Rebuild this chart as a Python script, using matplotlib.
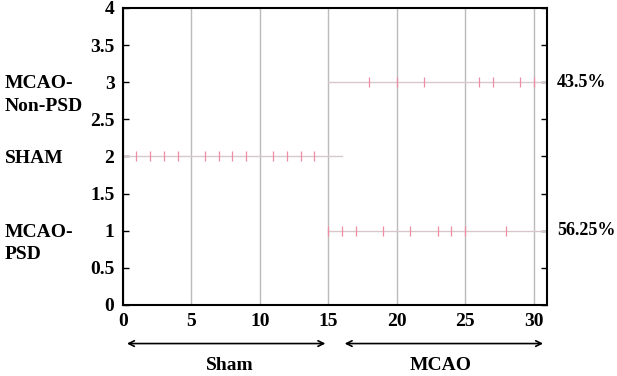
import numpy as np
import matplotlib.pyplot as plt

plt.rcParams['font.family'] = ['Liberation Serif', 'DejaVu Serif']
plt.rcParams['font.weight'] = 'bold'

# 每组样本编号
sham_x = [1, 2, 3, 4, 6, 7, 8, 9, 11, 12, 13, 14]
psd_x = [15, 16, 17, 19, 21, 23, 24, 25, 28]
nonpsd_x = [18, 20, 22, 26, 27, 29, 30]
group_y = {'sham': 2, 'psd': 1, 'nonpsd': 3}
row_labels = ['MCAO-\nPSD', 'SHAM', 'MCAO-\nNon-PSD']
row_pct = {3: '43.5%', 1: '56.25%'}

fig = plt.figure(figsize=(6.17, 3.76), dpi=100)
ax = fig.add_axes([0.199, 0.189, 0.688, 0.790])

line_c = '#d8c8cc'
mark_c = '#f08ca4'
ax.plot([0, 16], [2, 2], color=line_c, lw=1, zorder=2)
ax.plot([15, 31], [1, 1], color=line_c, lw=1, zorder=2)
ax.plot([15, 31], [3, 3], color=line_c, lw=1, zorder=2)
ax.plot(sham_x, [group_y['sham']] * len(sham_x), '|', color=mark_c, ms=7, mew=0.9, zorder=3)
ax.plot(psd_x, [group_y['psd']] * len(psd_x), '|', color=mark_c, ms=7, mew=0.9, zorder=3)
ax.plot(nonpsd_x, [group_y['nonpsd']] * len(nonpsd_x), '|', color=mark_c, ms=7, mew=0.9, zorder=3)

ax.set_xlim(0, 31)
ax.set_ylim(0, 4)
ax.set_xticks(range(0, 31, 5))
ax.set_yticks(np.arange(0, 4.01, 0.5))
ax.set_yticklabels(['0', '0.5', '1', '1.5', '2', '2.5', '3', '3.5', '4'])
ax.xaxis.grid(True, color='#bbbbbb', lw=1)
ax.set_axisbelow(True)
ax.tick_params(axis='both', direction='in', labelsize=14, length=4, width=1)
ax.tick_params(axis='y', right=True, pad=6)
ax.tick_params(axis='x', length=0, pad=6)
for s in ax.spines.values():
    s.set_linewidth(1.5)

# 左侧分组标签
for y, lab in zip([1, 2, 3], row_labels):
    ax.text(-8.6, y + 0.09, lab, fontsize=14, fontweight='bold', va='top', ha='left',
            linespacing=1.4)
for y, p in row_pct.items():
    ax.text(31.7, y, p, fontsize=13, fontweight='bold', va='center', ha='left')

# 底部箭头
ax.annotate('', xy=(0.1, -0.52), xytext=(15.0, -0.52), xycoords='data',
            arrowprops=dict(arrowstyle='<->', color='black', lw=1.2), annotation_clip=False)
ax.annotate('', xy=(16.0, -0.52), xytext=(30.9, -0.52), xycoords='data',
            arrowprops=dict(arrowstyle='<->', color='black', lw=1.2), annotation_clip=False)
ax.text(7.8, -0.82, 'Sham', fontsize=14, fontweight='bold', ha='center', va='center')
ax.text(23.2, -0.82, 'MCAO', fontsize=14, fontweight='bold', ha='center', va='center')

plt.savefig('out.png', dpi=100)
